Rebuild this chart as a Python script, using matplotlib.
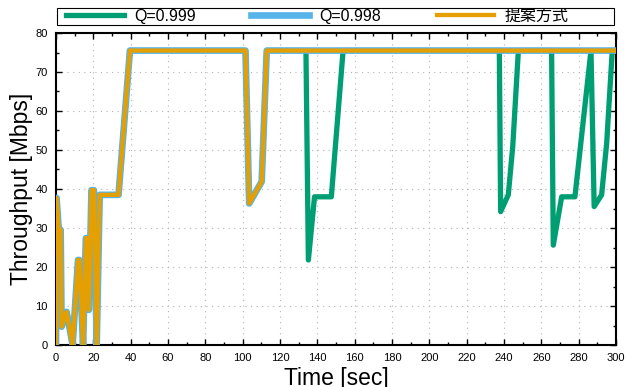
import matplotlib
matplotlib.use("Agg")
import matplotlib.pyplot as plt
import matplotlib.ticker as ticker
from matplotlib.patches import Rectangle

plt.rcParams['font.family'] = ['Liberation Sans', 'Noto Sans CJK JP']

# Proposed method (and Q=0.998, which follows the same trace)
t_prop = [0, 0.3, 1.5, 2.5, 3.0, 5.7, 8.9, 11.8, 12.5, 14.5, 16.0, 17.2,
          17.6, 19.0, 20.3, 21.8, 23.4, 33.5, 39.6, 101.5, 103.5, 110.2,
          112.9, 300]
v_prop = [0, 37.7, 29.5, 29.5, 4.7, 8.5, 0, 21.8, 21.8, 0, 27.4, 27.4,
          9.0, 39.7, 39.7, 0, 38.5, 38.5, 75.5, 75.5, 36.3, 41.9,
          75.5, 75.5]

t_q998 = list(t_prop)
v_q998 = list(v_prop)

# Q=0.999 drops out several more times after 130 s
t_q999 = [0, 0.3, 1.5, 2.5, 3.0, 5.7, 8.9, 11.8, 12.5, 14.5, 16.0, 17.2,
          17.6, 19.0, 20.3, 21.8, 23.4, 33.5, 39.6, 101.5, 103.5, 110.2,
          112.9, 133.9, 135.2, 138.5, 147.5, 153.8, 237.5, 238.2, 242.3,
          244.7, 247.7, 265.5, 266.4, 270.9, 278.0, 286.6, 288.3, 292.3,
          295.0, 298.0, 300]
v_q999 = [0, 37.7, 29.5, 29.5, 4.7, 8.5, 0, 21.8, 21.8, 0, 27.4, 27.4,
          9.0, 39.7, 39.7, 0, 38.5, 38.5, 75.5, 75.5, 36.3, 41.9,
          75.5, 75.5, 21.8, 38.0, 38.0, 75.5, 75.5, 34.2, 38.5,
          51.0, 75.5, 75.5, 25.6, 38.0, 38.0, 75.5, 35.5, 38.5,
          51.7, 75.5, 75.5]

c_green = '#009e73'
c_blue = '#56b4e9'
c_orange = '#e69f00'

W, H = 628, 387
fig = plt.figure(figsize=(W / 100, H / 100), dpi=100)
ax = fig.add_axes([56 / W, 1 - 345 / H, 560 / W, 312 / H])

ax.plot(t_q999, v_q999, color=c_green, lw=3.8, label='Q=0.999', zorder=3)
ax.plot(t_q998, v_q998, color=c_blue, lw=4.8, label='Q=0.998', zorder=4)
ax.plot(t_prop, v_prop, color=c_orange, lw=3.1, label='提案方式', zorder=5)

ax.set_xlim(0, 300)
ax.set_ylim(0, 80)
ax.xaxis.set_major_locator(ticker.MultipleLocator(20))
ax.xaxis.set_minor_locator(ticker.MultipleLocator(10))
ax.yaxis.set_major_locator(ticker.MultipleLocator(10))
ax.yaxis.set_minor_locator(ticker.MultipleLocator(5))

ax.grid(True, which='major', color='#b4b4b4', lw=0.8, linestyle=(0, (1, 4)))
ax.tick_params(which='both', direction='in', top=True, right=True,
               labelsize=8, pad=6, width=1.0)
ax.tick_params(which='major', length=4)
ax.tick_params(which='minor', length=2)
for sp in ax.spines.values():
    sp.set_linewidth(1.5)

ax.set_xlabel('Time [sec]', fontsize=16.5, labelpad=3)
ax.set_ylabel('Throughput [Mbps]', fontsize=16.5, labelpad=2)

# legend row above the axes, with its own box
fig.patches.append(Rectangle((57 / W, 1 - 25 / H), 557 / W, 17 / H,
                             transform=fig.transFigure, fill=False,
                             edgecolor='black', lw=0.8))
leg = fig.legend(loc='center left', bbox_to_anchor=(66 / W, 1 - 16.5 / H),
                 ncol=3, borderaxespad=0, borderpad=0, frameon=False,
                 fontsize=11.5, handlelength=3.6, handletextpad=0.65,
                 columnspacing=3.5)

fig.savefig('out.png', dpi=100)
